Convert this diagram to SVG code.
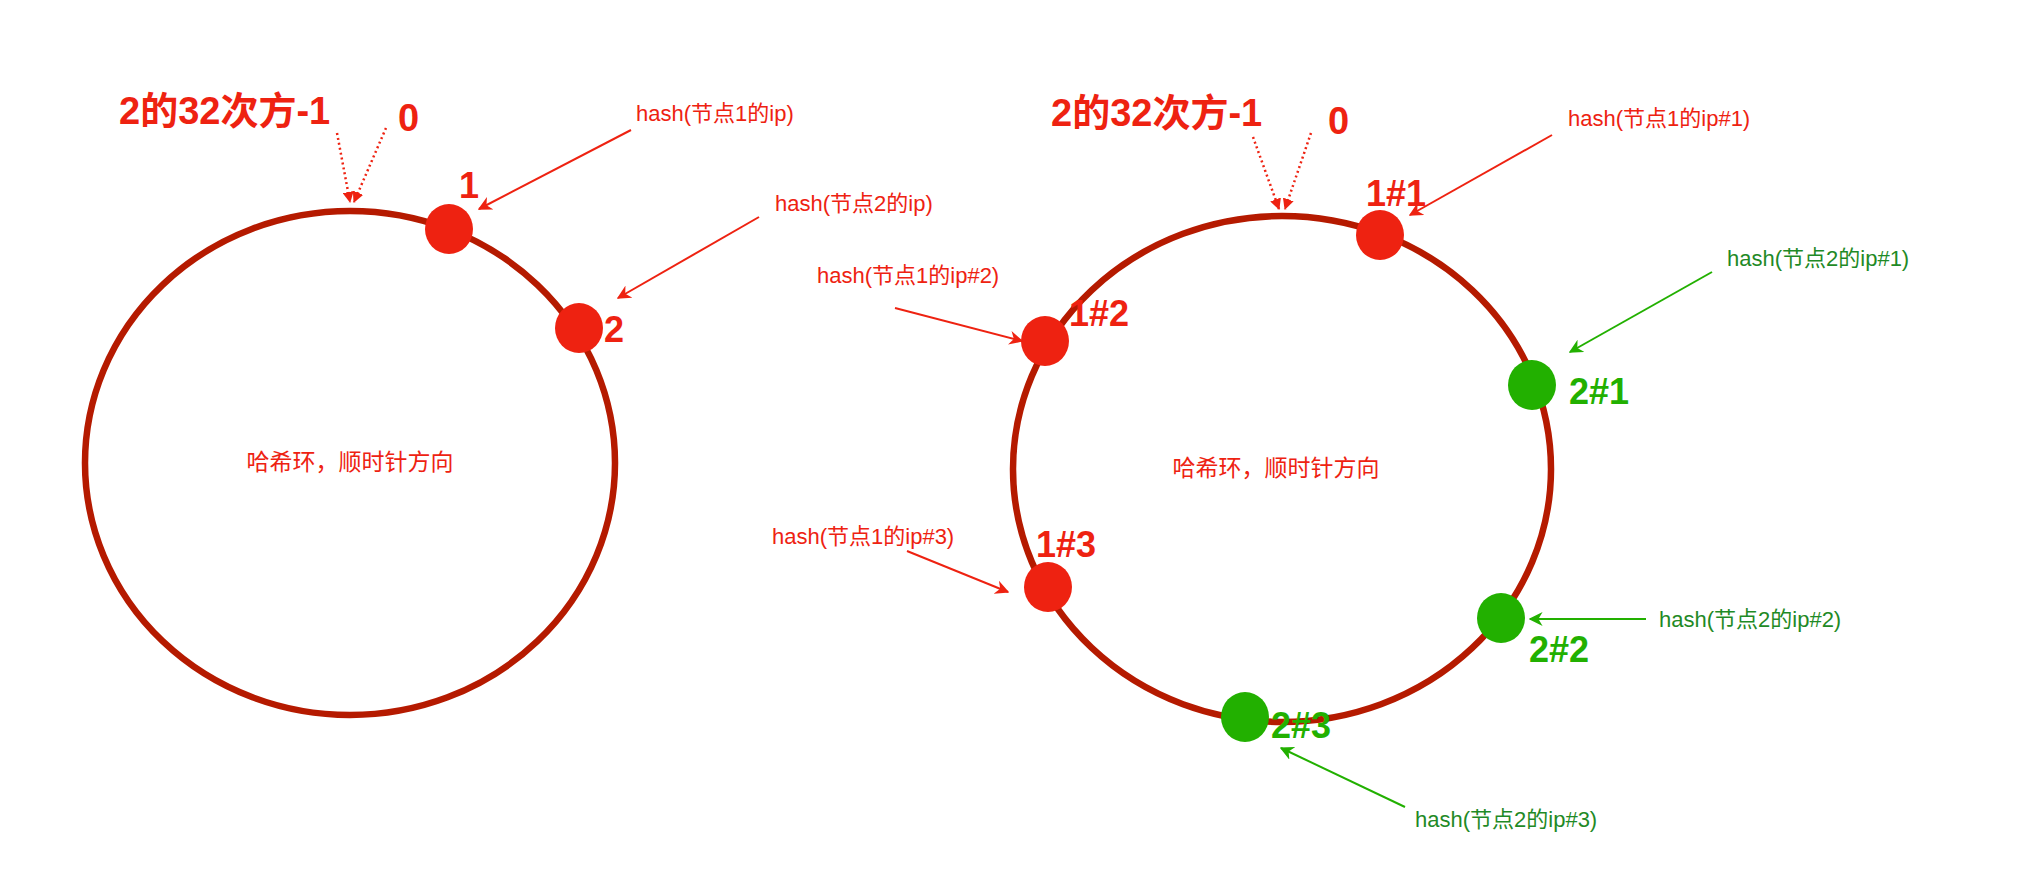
<svg xmlns="http://www.w3.org/2000/svg" width="2040" height="878" viewBox="0 0 2040 878">
<defs>
<marker id="ar" viewBox="0 0 10 10" refX="9" refY="5" markerWidth="7" markerHeight="7" orient="auto" markerUnits="strokeWidth"><path d="M0,0 L10,5 L0,10 L3,5 z" fill="#ee2211"/></marker>
<marker id="ag" viewBox="0 0 10 10" refX="9" refY="5" markerWidth="7" markerHeight="7" orient="auto" markerUnits="strokeWidth"><path d="M0,0 L10,5 L0,10 L3,5 z" fill="#22b000"/></marker>
<marker id="ad" viewBox="0 0 10 10" refX="9" refY="5" markerWidth="4.5" markerHeight="4.5" orient="auto" markerUnits="strokeWidth"><path d="M0,0 L10,5 L0,10 z" fill="#ee2211"/></marker>
</defs>
<style>
.ring{fill:none;stroke:#b51a00;stroke-width:6.5}
.rn{fill:#ee2211}
.gn{fill:#22b000}
.big{font-family:"Liberation Sans","Noto Sans CJK SC",sans-serif;font-weight:bold;font-size:38px;fill:#ee2211}
.lr{font-family:"Liberation Sans","Noto Sans CJK SC",sans-serif;font-weight:bold;font-size:36px;fill:#ee2211}
.lg{font-family:"Liberation Sans","Noto Sans CJK SC",sans-serif;font-weight:bold;font-size:36px;fill:#22b000}
.hr{font-family:"Liberation Sans","Noto Sans CJK SC",sans-serif;font-size:22px;fill:#ee2211}
.hg{font-family:"Liberation Sans","Noto Sans CJK SC",sans-serif;font-size:22px;fill:#1f8a26}
.ct{font-family:"Liberation Sans","Noto Sans CJK SC",sans-serif;font-size:23px;fill:#ee2211;text-anchor:middle}
.cr{fill:none;stroke:#ee2211;stroke-width:2;marker-end:url(#ar)}
.cg{fill:none;stroke:#22b000;stroke-width:2;marker-end:url(#ag)}
.dot{fill:none;stroke:#ee2211;stroke-width:2.5;stroke-dasharray:2 3;marker-end:url(#ad)}
</style>
<g id="ring-left">
<ellipse class="ring" cx="350" cy="463" rx="265" ry="252"/>
<text class="ct" x="350" y="470">哈希环，顺时针方向</text>
<text class="big" x="119" y="124">2的32次方-1</text>
<text class="big" x="398" y="131">0</text>
</g>
<g id="ring-right">
<ellipse class="ring" cx="1282" cy="469" rx="269" ry="253"/>
<text class="ct" x="1276" y="476">哈希环，顺时针方向</text>
<text class="big" x="1051" y="126">2的32次方-1</text>
<text class="big" x="1328" y="134">0</text>
</g>
<g id="node-1"><ellipse class="rn" cx="449" cy="229" rx="24" ry="25"/><text class="lr" x="459" y="198">1</text></g>
<g id="node-2"><ellipse class="rn" cx="579" cy="328" rx="24" ry="25"/><text class="lr" x="604" y="342">2</text></g>
<g id="node-1-1"><ellipse class="rn" cx="1380" cy="235" rx="24" ry="25"/><text class="lr" x="1366" y="206">1#1</text></g>
<g id="node-1-2"><ellipse class="rn" cx="1045" cy="341" rx="24" ry="25"/><text class="lr" x="1069" y="326">1#2</text></g>
<g id="node-1-3"><ellipse class="rn" cx="1048" cy="587" rx="24" ry="25"/><text class="lr" x="1036" y="557">1#3</text></g>
<g id="node-2-1"><ellipse class="gn" cx="1532" cy="385" rx="24" ry="25"/><text class="lg" x="1569" y="404">2#1</text></g>
<g id="node-2-2"><ellipse class="gn" cx="1501" cy="618" rx="24" ry="25"/><text class="lg" x="1529" y="662">2#2</text></g>
<g id="node-2-3"><ellipse class="gn" cx="1245" cy="717" rx="24" ry="25"/><text class="lg" x="1271" y="738">2#3</text></g>
<g id="labels">
<text class="hr" x="636" y="121">hash(节点1的ip)</text>
<text class="hr" x="775" y="211">hash(节点2的ip)</text>
<text class="hr" x="1568" y="126">hash(节点1的ip#1)</text>
<text class="hr" x="817" y="283">hash(节点1的ip#2)</text>
<text class="hr" x="772" y="544">hash(节点1的ip#3)</text>
<text class="hg" x="1727" y="266">hash(节点2的ip#1)</text>
<text class="hg" x="1659" y="627">hash(节点2的ip#2)</text>
<text class="hg" x="1415" y="827">hash(节点2的ip#3)</text>
</g>
<g id="connectors">
<path class="dot" d="M337,133 L350,202"/>
<path class="dot" d="M386,128 L354,202"/>
<path class="dot" d="M1253,137 L1279,209"/>
<path class="dot" d="M1311,133 L1285,209"/>
<path class="cr" d="M631,130 L479,209"/>
<path class="cr" d="M759,217 L618,298"/>
<path class="cr" d="M1552,135 L1410,215"/>
<path class="cr" d="M895,308 L1022,341"/>
<path class="cr" d="M907,551 L1008,592"/>
<path class="cg" d="M1712,272 L1570,352"/>
<path class="cg" d="M1646,619 L1530,619"/>
<path class="cg" d="M1405,807 L1281,748"/>
</g>
</svg>
